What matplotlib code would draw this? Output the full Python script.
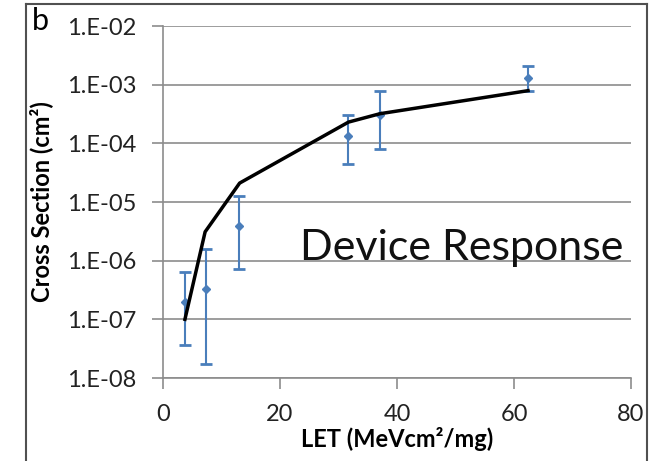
import matplotlib
matplotlib.use("Agg")
import matplotlib.pyplot as plt
from matplotlib.ticker import FixedLocator, FixedFormatter

# measured cross sections with error bars
let_meas = [3.75, 7.3, 13.0, 31.7, 37.1, 62.4]
xs_meas = [2.0e-7, 3.3e-7, 3.9e-6, 1.34e-4, 3.05e-4, 1.29e-3]
xs_hi = [6.4e-7, 1.6e-6, 1.27e-5, 3.0e-4, 7.9e-4, 2.06e-3]
xs_lo = [3.6e-8, 1.7e-8, 7.2e-7, 4.5e-5, 8.1e-5, 7.8e-4]

# device response curve
let_model = [3.75, 7.2, 13.1, 31.7, 37.1, 62.4]
xs_model = [1.0e-7, 3.1e-6, 2.1e-5, 2.3e-4, 3.2e-4, 7.9e-4]

ytick_vals = [1e-8, 1e-7, 1e-6, 1e-5, 1e-4, 1e-3, 1e-2]
ytick_labels = ["1.E-08", "1.E-07", "1.E-06", "1.E-05", "1.E-04", "1.E-03", "1.E-02"]
xtick_vals = [0, 20, 40, 60, 80]

plt.rcParams['font.family'] = ['Lato', 'DejaVu Sans']
grid_col = "#8c8c8c"
blue = "#4a7ebb"

fig = plt.figure(figsize=(6.56, 4.61), dpi=100)
ax = fig.add_axes([163/656, 1-378/461, (631-163)/656, (378-26)/461])

ax.set_yscale("log")
ax.set_xlim(0, 80)
ax.set_ylim(1e-8, 1e-2)

err_lo = [m - l for m, l in zip(xs_meas, xs_lo)]
err_hi = [h - m for m, h in zip(xs_meas, xs_hi)]
ax.errorbar(let_meas, xs_meas, yerr=[err_lo, err_hi], fmt="D", color=blue,
            ms=4, elinewidth=1.5, capsize=4, capthick=2, zorder=3)
ax.plot(let_model, xs_model, color="black", lw=2.5, zorder=4)

ax.yaxis.set_major_locator(FixedLocator(ytick_vals))
ax.yaxis.set_major_formatter(FixedFormatter(ytick_labels))
ax.yaxis.set_minor_locator(FixedLocator([]))
ax.set_xticks(xtick_vals)
ax.grid(axis="y", color=grid_col, lw=1.2)
ax.set_axisbelow(True)
for s in ["top", "right"]:
    ax.spines[s].set_visible(False)
ax.spines["left"].set_color(grid_col)
ax.spines["bottom"].set_color(grid_col)
ax.spines["left"].set_linewidth(1.2)
ax.spines["bottom"].set_linewidth(1.2)
ax.tick_params(axis="both", colors=grid_col, length=8, width=1.2, labelsize=17,
               labelcolor="#222222")
ax.tick_params(axis="y", pad=11)
ax.tick_params(axis="x", pad=11)

fig.text(41/656, 1-202/461, "Cross Section (cm²)", rotation=90, fontsize=17,
         fontweight="bold", ha="center", va="center")
fig.text(397/656, 1-439/461, "LET (MeVcm²/mg)", fontsize=17,
         fontweight="bold", ha="center", va="center")
ax.text(300/656, 1-260/461, "Device Response", transform=fig.transFigure,
        fontsize=31, ha="left", va="baseline", color="#111111")

# figure frame and panel letter
frame = fig.add_axes([25.5/656, 0, (646.5-25.5)/656, 1-4.5/461], zorder=-1)
frame.set_xticks([])
frame.set_yticks([])
frame.patch.set_alpha(0)
for s in frame.spines.values():
    s.set_color("#505050")
    s.set_linewidth(1.5)
frame.spines["bottom"].set_visible(False)
b = frame.text(0.011, (461-30)/456.5, "b", transform=frame.transAxes, fontsize=22,
               ha="left", va="baseline", clip_on=True)

fig.savefig("out.png", dpi=100)
